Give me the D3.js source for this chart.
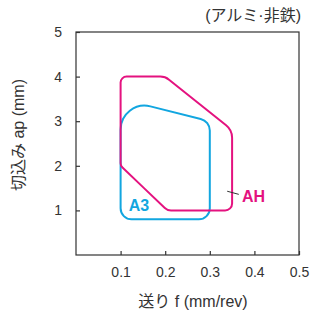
<html>
<head><meta charset="utf-8"></head>
<script src="https://d3js.org/d3.v7.min.js"></script>
<body style="margin:0;background:#fff">
</body>
<script>
// ranges
const xTicks = [0.1, 0.2, 0.3, 0.4, 0.5];
const yTicks = [1, 2, 3, 4, 5];
// AH region outline (f, ap) and corner radius (px)
const ahF  = [0.1, 0.1, 0.2, 0.35, 0.35, 0.205];
const ahAp = [2.0, 4.0, 4.0, 2.8, 1.0, 1.0];
const ahR  = [6, 6, 14, 16, 7, 9];
// A3 region outline
const a3F  = [0.1, 0.1, 0.3, 0.3];
const a3Ap = [0.8, 3.5, 3.0, 0.8];
const a3R  = [11, 24, 12, 11];

let width = 314, height = 316;
let svg = d3.select("body").append("svg")
    .attr("width", width)
    .attr("height", height)
    .style("font-family", "'Liberation Sans', 'Noto Sans CJK JP', sans-serif");

let x = d3.scaleLinear().domain([0, 0.5]).range([76, 299]);
let y = d3.scaleLinear().domain([0, 5]).range([255, 32]);

// frame
svg.append("rect")
    .attr("x", 76).attr("y", 32)
    .attr("width", 223).attr("height", 223)
    .attr("fill", "none").attr("stroke", "#333").attr("stroke-width", 1.2);

// inward ticks
let xAxis = svg.append("g").attr("transform", "translate(0,255)")
    .call(d3.axisBottom(x).tickValues(xTicks).tickSizeInner(-4).tickSizeOuter(0).tickPadding(12).tickFormat(d3.format(".1f")));
let yAxis = svg.append("g").attr("transform", "translate(76,0)")
    .call(d3.axisLeft(y).tickValues(yTicks).tickSizeInner(-4).tickSizeOuter(0).tickPadding(14).tickFormat(d3.format("d")));
[xAxis, yAxis].forEach(a => {
    a.select(".domain").remove();
    a.selectAll("line").attr("stroke", "#333").attr("stroke-width", 1.2);
    a.selectAll("text").attr("fill", "#333").style("font-size", "14px")
        .style("font-family", "'Liberation Sans', Arial, sans-serif");
});

// rounded polygon from data points
function roundedPath(fs, aps, rs) {
    let pts = fs.map((f, i) => [x(f), y(aps[i])]);
    let n = pts.length;
    let p = d3.path();
    let mid = (a, b) => [(a[0] + b[0]) / 2, (a[1] + b[1]) / 2];
    let start = mid(pts[n - 1], pts[0]);
    p.moveTo(start[0], start[1]);
    for (let i = 0; i < n; i++) {
        let c = pts[i], nx = pts[(i + 1) % n];
        let m = mid(c, nx);
        p.arcTo(c[0], c[1], m[0], m[1], rs[i]);
    }
    p.closePath();
    return p.toString();
}

svg.append("path")
    .attr("d", roundedPath(a3F, a3Ap, a3R))
    .attr("fill", "none").attr("stroke", "#12a6e0").attr("stroke-width", 2);
svg.append("path")
    .attr("d", roundedPath(ahF, ahAp, ahR))
    .attr("fill", "none").attr("stroke", "#e4127f").attr("stroke-width", 2);

// labels
svg.append("text").attr("x", x(0.118)).attr("y", y(0.98))
    .attr("fill", "#12a6e0").style("font-size", "16px").style("font-weight", "bold")
    .text("A3");
svg.append("line")
    .attr("x1", x(0.339)).attr("y1", y(1.43))
    .attr("x2", x(0.365)).attr("y2", y(1.36))
    .attr("stroke", "#333").attr("stroke-width", 1);
svg.append("text").attr("x", x(0.372)).attr("y", y(1.18))
    .attr("fill", "#e4127f").style("font-size", "16px").style("font-weight", "bold")
    .text("AH");

svg.append("text").attr("x", 301).attr("y", 21).attr("text-anchor", "end")
    .attr("fill", "#333").style("font-size", "16px").text("(アルミ·非鉄)");
svg.append("text").attr("x", 193).attr("y", 307).attr("text-anchor", "middle")
    .attr("fill", "#333").style("font-size", "16px").text("送り f (mm/rev)");
svg.append("text").attr("transform", "translate(24,135) rotate(-90)").attr("text-anchor", "middle")
    .attr("fill", "#333").style("font-size", "16px").text("切込み ap (mm)");
</script>
</html>
